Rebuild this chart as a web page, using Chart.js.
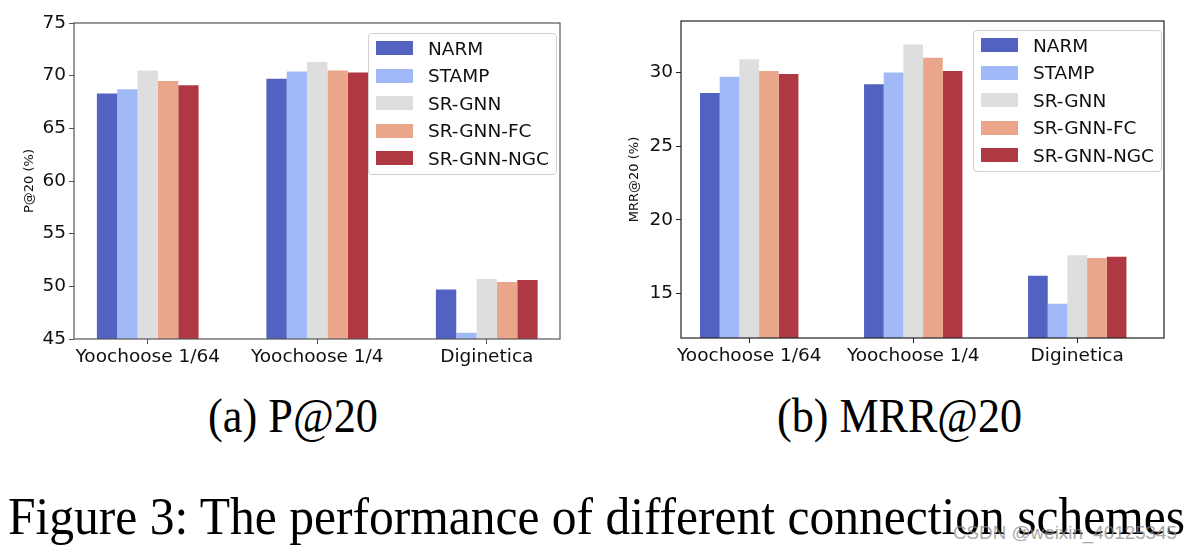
<!DOCTYPE html>
<html>
<head>
<meta charset="utf-8">
<script src="https://cdn.jsdelivr.net/npm/chart.js@4.4.0/dist/chart.umd.min.js"></script>
<style>
  body { margin: 0; background: #fff; width: 1192px; height: 552px; overflow: hidden; position: relative; }
  .box { position: absolute; }
  .legend {
    position: absolute; width: 189px; height: 142px; box-sizing: border-box;
    border: 1px solid #d0d0d0; border-radius: 4px; background: rgba(255,255,255,0.8);
    font-family: "DejaVu Sans", sans-serif; font-size: 18.5px; color: #111;
  }
  .legend .row { position: absolute; left: 0; height: 28px; display: flex; align-items: center; }
  .legend .sw { width: 37px; height: 14px; margin-left: 7px; margin-right: 15px; }
  .cap { position: absolute; font-family: "Liberation Serif", "Times New Roman", serif; white-space: nowrap; line-height: 1; transform-origin: 0 0; color: #000; }
  .wm { position: absolute; font-family: "Liberation Sans", Arial, sans-serif; white-space: nowrap; line-height: 1; transform-origin: 0 0; color: rgba(140,140,140,0.75); }
</style>
</head>
<body>
<div class="box" style="left:0;top:0;width:590px;height:380px"><canvas id="chartP"></canvas></div>
<div class="box" style="left:590px;top:0;width:602px;height:380px"><canvas id="chartM"></canvas></div>
<div class="legend" id="legP" style="left:368px;top:33px"></div>
<div class="legend" id="legM" style="left:973px;top:30px"></div>

<div class="cap" id="capA" style="font-size:48px;top:392px" data-left="208" data-width="170">(a) P@20</div>
<div class="cap" id="capB" style="font-size:48px;top:392px" data-left="777" data-width="245">(b) MRR@20</div>
<div class="cap" id="capF" style="font-size:52px;top:491px" data-left="8" data-width="1177">Figure 3: The performance of different connection schemes</div>
<div class="wm" id="wm" style="font-size:19px;top:523px" data-left="953" data-width="224">CSDN @weixin_40125345</div>

<script>
const datasetsLabels = ['Yoochoose 1/64', 'Yoochoose 1/4', 'Diginetica'];
const methods = ['NARM', 'STAMP', 'SR-GNN', 'SR-GNN-FC', 'SR-GNN-NGC'];
const colors = ['#5162c1', '#a1b9f6', '#dedede', '#e9a68b', '#b03843'];

// P@20 (%)
const pNARM = [68.3, 69.7, 49.7];
const pSTAMP = [68.7, 70.4, 45.6];
const pSRGNN = [70.5, 71.3, 50.7];
const pFC = [69.5, 70.5, 50.4];
const pNGC = [69.1, 70.3, 50.6];
const pTicks = [45, 50, 55, 60, 65, 70, 75];

// MRR@20 (%)
const mNARM = [28.6, 29.2, 16.2];
const mSTAMP = [29.7, 30.0, 14.3];
const mSRGNN = [30.9, 31.9, 17.6];
const mFC = [30.1, 31.0, 17.4];
const mNGC = [29.9, 30.1, 17.5];
const mTicks = [15, 20, 25, 30];

const tickFont = { family: 'DejaVu Sans', size: 18.5 };

const framePlugin = {
  id: 'frame',
  afterDatasetsDraw(chart, args, opts) {
    const a = chart.chartArea;
    const ctx = chart.ctx;
    ctx.save();
    ctx.strokeStyle = opts.color;
    ctx.lineWidth = 1.2;
    ctx.strokeRect(a.left, a.top, a.right - a.left, a.bottom - a.top);
    ctx.restore();
  }
};

// x is a linear index axis so the side margins can match matplotlib's
function makeChart(id, series, yTicks, yMin, yMax, xMin, xMax, yTitle, pad, yWidth, xHeight, frameColor) {
  const ctx = document.getElementById(id).getContext('2d');
  return new Chart(ctx, {
    type: 'bar',
    data: {
      datasets: series.map((d, i) => ({
        label: methods[i],
        data: d.map((v, j) => ({ x: j, y: v })),
        backgroundColor: colors[i],
        borderWidth: 0,
        categoryPercentage: 0.6,
        barPercentage: 1.0,
      })),
    },
    plugins: [framePlugin],
    options: {
      responsive: true,
      maintainAspectRatio: false,
      animation: false,
      layout: { padding: pad },
      plugins: {
        legend: { display: false },
        tooltip: { enabled: false },
        frame: { color: frameColor },
      },
      scales: {
        x: {
          type: 'linear',
          min: xMin,
          max: xMax,
          offset: false,
          afterBuildTicks(s) { s.ticks = datasetsLabels.map((_, j) => ({ value: j })); },
          grid: { display: true, drawOnChartArea: false, drawTicks: true, tickLength: 5, tickColor: frameColor, offset: false },
          border: { display: false },
          ticks: { color: '#111', font: tickFont, padding: 2, maxRotation: 0, callback: v => datasetsLabels[v] },
          afterFit(s) { s.height = xHeight; },
        },
        y: {
          min: yMin,
          max: yMax,
          afterBuildTicks(s) { s.ticks = yTicks.map(v => ({ value: v })); },
          grid: { display: true, drawOnChartArea: false, drawTicks: true, tickLength: 5, tickColor: frameColor },
          border: { display: false },
          ticks: { color: '#111', font: tickFont, padding: 3 },
          title: { display: true, text: yTitle, color: '#111', font: { family: 'DejaVu Sans', size: 13 }, padding: { top: 4, bottom: 4 } },
          afterFit(s) { s.width = yWidth; },
        },
      },
    },
  });
}

makeChart('chartP', [pNARM, pSTAMP, pSRGNN, pFC, pNGC], pTicks, 45, 75, -0.435, 2.432, 'P@20 (%)',
  { left: 18, right: 30, top: 23, bottom: 0 }, 56, 41, '#555');
makeChart('chartM', [mNARM, mSTAMP, mSRGNN, mFC, mNGC], mTicks, 11.98, 33.49, -0.416, 2.529, 'MRR@20 (%)',
  { left: 33, right: 28, top: 21, bottom: 0 }, 58, 42, '#222');

function buildLegend(id) {
  const el = document.getElementById(id);
  methods.forEach((m, i) => {
    const row = document.createElement('div');
    row.className = 'row';
    row.style.top = (i * 27.6) + 'px';
    const sw = document.createElement('span');
    sw.className = 'sw';
    sw.style.background = colors[i];
    const tx = document.createElement('span');
    tx.textContent = m;
    row.appendChild(sw);
    row.appendChild(tx);
    el.appendChild(row);
  });
}
buildLegend('legP');
buildLegend('legM');

// stretch caption texts to the reference widths
document.querySelectorAll('.cap, .wm').forEach(el => {
  const w = el.getBoundingClientRect().width;
  const target = +el.dataset.width;
  el.style.left = el.dataset.left + 'px';
  el.style.transform = 'scaleX(' + (target / w) + ')';
});
</script>
</body>
</html>
